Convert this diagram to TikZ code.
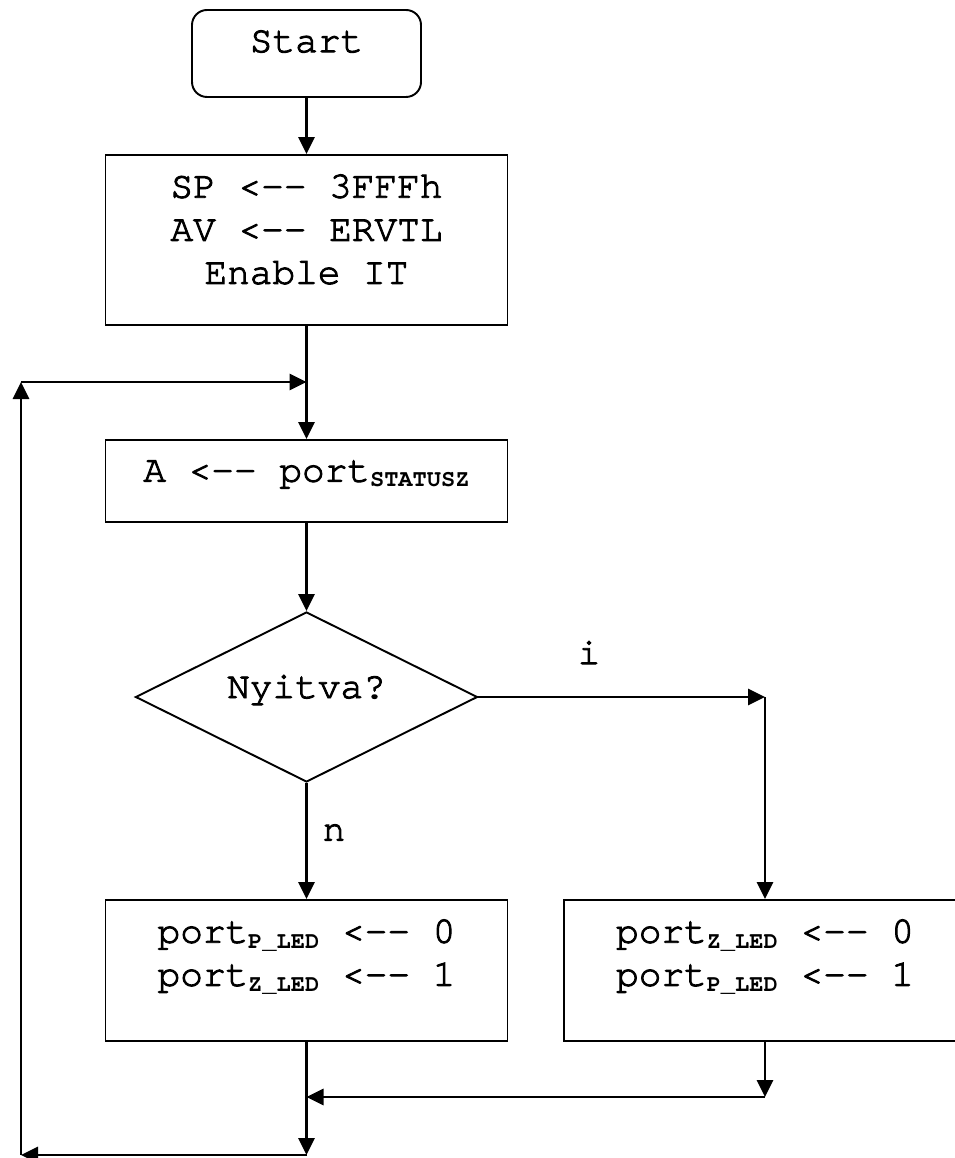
\documentclass[tikz,border=0pt]{standalone}
\usepackage{fontspec}
\setmonofont{TeX Gyre Cursor}
\newfontfamily\codefont{TeX Gyre Cursor}[UprightFeatures={FakeBold=2.5}]
\usetikzlibrary{arrows.meta, calc, positioning, shapes.geometric}

\newcommand{\lowidx}[1]{\raisebox{-3pt}{\fontsize{13.5}{13.5}\selectfont\ttfamily\bfseries #1}}

\begin{document}
\begin{tikzpicture}[
    box/.style={draw, line width=1.1pt, minimum width=8.04cm, inner sep=0},
    decision/.style={draw, diamond, line width=1.1pt, minimum width=6.84cm, minimum height=3.4cm, inner sep=0},
    txt/.style={font=\fontsize{21.5}{24.5}\selectfont\codefont, align=center, inner sep=0},
    flow/.style={-{Triangle[length=0.34cm, width=0.32cm]}, line width=1.6pt}
]
\useasboundingbox (0,0) rectangle (19.08,-23.16);

% Kasten
\node[box, rounded corners=0.3cm, minimum width=4.58cm, minimum height=1.74cm] (start) at (6.13,-1.07) {};
\node[txt, below=0.42cm of start.north] (startText) {Start};

\node[box, minimum height=3.4cm] (init) at (6.13,-4.8) {};
\node[txt, below=0.4cm of init.north] (initText) {SP <{-}{-} 3FFFh\\AV <{-}{-} ERVTL\\Enable IT};

\node[box, minimum height=1.64cm] (read) at (6.13,-9.62) {};
\node[txt, below=0.42cm of read.north] (readText) {A <{-}{-} port\lowidx{STATUSZ}};

\node[decision] (check) at (6.13,-13.94) {};
\node[txt] (checkText) at (6.13,-13.8) {Nyitva?};

\node[box, minimum height=2.82cm] (left) at (6.13,-19.41) {};
\node[txt, below=0.4cm of left.north] (leftText) {port\lowidx{P\_LED} <{-}{-} 0\\port\lowidx{Z\_LED} <{-}{-} 1};

\node[box, minimum height=2.82cm] (right) at (15.3,-19.41) {};
\node[txt, below=0.4cm of right.north] (rightText) {port\lowidx{Z\_LED} <{-}{-} 0\\port\lowidx{P\_LED} <{-}{-} 1};

% Knickpunkte
\coordinate (loopIn) at (6.13,-7.64);
\coordinate (loopTop) at (0.42,-7.64);
\coordinate (loopBottom) at (0.42,-23.1);
\coordinate (bottom) at (6.13,-23.1);
\coordinate (merge) at (6.13,-21.94);
\coordinate (rightBend) at (15.3,-21.94);
\coordinate (turn) at (15.3,-13.94);

% Verbindungen
\draw[flow] (start) -- (init);
\draw[flow] (init) -- (read);
\draw[flow] (read) -- (check);
\draw[flow] (check.east) -- (turn);
\draw[flow] (turn) -- (right);
\draw[flow] (check) -- (left);
\draw[flow] (right) -- (rightBend);
\draw[flow] (rightBend) -- (merge);
\draw[flow] (left) -- (bottom);
\draw[flow] (bottom) -- (loopBottom);
\draw[flow] (loopBottom) -- (loopTop);
\draw[flow] (loopTop) -- (loopIn);

% Beschriftungen
\node[txt] (yesLabel) at (11.78,-13.05) {i};
\node[txt] (noLabel) at (6.68,-16.65) {n};

\end{tikzpicture}
\end{document}
